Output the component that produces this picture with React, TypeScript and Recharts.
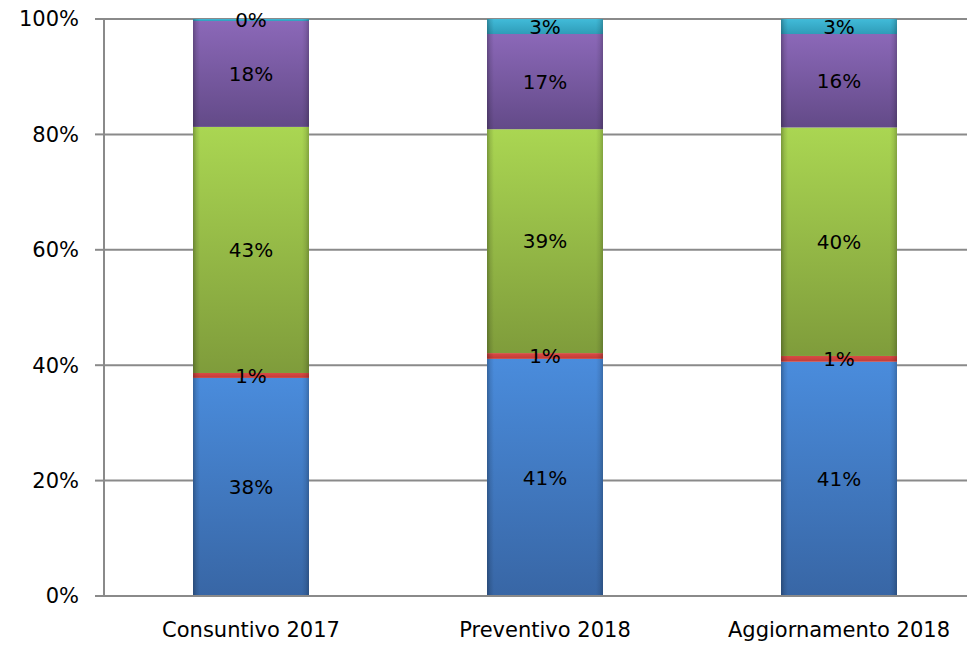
import { BarChart, Bar, XAxis, YAxis, CartesianGrid, LabelList } from 'recharts';

// percentages (each column sums to 100)
const categories = ['Consuntivo 2017', 'Preventivo 2018', 'Aggiornamento 2018'];
const blueValues = [37.8, 41.1, 40.6];
const redValues = [0.85, 1.0, 1.0];
const greenValues = [42.65, 38.8, 39.6];
const purpleValues = [18.35, 16.5, 16.2];
const cyanValues = [0.35, 2.6, 2.6];
const yTicks = [0, 20, 40, 60, 80, 100];

const data = categories.map((name, i) => ({
  name,
  blue: blueValues[i],
  red: redValues[i],
  green: greenValues[i],
  purple: purpleValues[i],
  cyan: cyanValues[i],
}));

const series = [
  { key: 'blue', grad: 'gBlue', top: '#4A8CDC', bottom: '#3866A5' },
  { key: 'red', grad: 'gRed', top: '#DA4A45', bottom: '#C23B37' },
  { key: 'green', grad: 'gGreen', top: '#AAD652', bottom: '#7F9C3B' },
  { key: 'purple', grad: 'gPurple', top: '#8B68B8', bottom: '#634A88' },
  { key: 'cyan', grad: 'gCyan', top: '#41BBD9', bottom: '#2F9CB8' },
];

const GRID = '#8A8A8A';
const FONT = '"DejaVu Sans", sans-serif';

function ShadedBar(props: any) {
  const { x, y, width, height, gradId } = props;
  if (!height || height <= 0) return null;
  return (
    <g>
      <rect x={x} y={y} width={width} height={height} fill={`url(#${gradId})`} />
      <rect x={x} y={y} width={width} height={height} fill="url(#edgeShade)" />
    </g>
  );
}

export default function App() {
  return (
    <div
      style={{
        position: 'absolute', left: 0, top: 0, width: 967, height: 648,
        overflow: 'hidden', background: '#fff', fontFamily: FONT,
      }}
    >
      <BarChart
        width={1000}
        height={648}
        data={data}
        margin={{ top: 19, right: 14, left: 0, bottom: 0 }}
        barSize={116}
      >
        <defs>
          {series.map((s) => (
            <linearGradient key={s.grad} id={s.grad} x1="0" y1="0" x2="0" y2="1">
              <stop offset="0%" stopColor={s.top} />
              <stop offset="100%" stopColor={s.bottom} />
            </linearGradient>
          ))}
          <linearGradient id="edgeShade" x1="0" y1="0" x2="1" y2="0">
            <stop offset="0%" stopColor="#000" stopOpacity={0.28} />
            <stop offset="3%" stopColor="#000" stopOpacity={0.1} />
            <stop offset="6%" stopColor="#000" stopOpacity={0} />
            <stop offset="94%" stopColor="#000" stopOpacity={0} />
            <stop offset="97%" stopColor="#000" stopOpacity={0.08} />
            <stop offset="100%" stopColor="#000" stopOpacity={0.22} />
          </linearGradient>
        </defs>
        <CartesianGrid vertical={false} stroke={GRID} strokeWidth={2} />
        <XAxis
          dataKey="name"
          height={52}
          axisLine={{ stroke: GRID, strokeWidth: 2 }}
          tickLine={false}
          tickSize={0}
          tickMargin={26}
          tick={{ fontSize: 21, fill: '#000', fontFamily: FONT }}
        />
        <YAxis
          width={104}
          domain={[0, 100]}
          ticks={yTicks}
          interval={0}
          tickFormatter={(v: number) => `${v}%`}
          axisLine={{ stroke: GRID, strokeWidth: 2 }}
          tickLine={{ stroke: GRID, strokeWidth: 2 }}
          tickSize={9}
          tickMargin={16}
          tick={{ fontSize: 21, fill: '#000', fontFamily: FONT }}
        />
        {series.map((s) => (
          <Bar
            key={s.key}
            dataKey={s.key}
            stackId="a"
            isAnimationActive={false}
            shape={(p: any) => <ShadedBar {...p} gradId={s.grad} />}
          >
            <LabelList
              dataKey={s.key}
              position="center"
              formatter={(v: any) => `${Math.round(Number(v))}%`}
              fill="#000"
              fontSize={20}
              fontFamily={FONT}
            />
          </Bar>
        ))}
      </BarChart>
    </div>
  );
}
